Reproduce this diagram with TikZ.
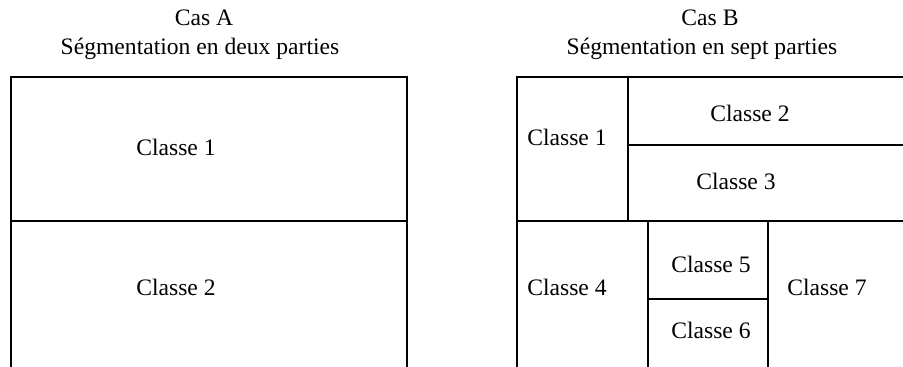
\documentclass[tikz,border=0pt]{standalone}
\usepackage{fontspec}
\setmainfont{Liberation Serif}

\tikzset{
    cell/.style={draw=black, line width=0.7pt},
    titre/.style={font=\fontsize{11.8}{14}\selectfont, anchor=base, inner sep=0pt},
    classe/.style={font=\fontsize{11.8}{14}\selectfont, anchor=base, inner sep=0pt},
}

\begin{document}
\begin{tikzpicture}[x=0.5pt, y=-0.5pt]

    \useasboundingbox (0,0) rectangle (903,366);
    \clip (0,0) rectangle (903,366);

    % Cas A: two classes stacked
    \begin{scope}
        \node[titre] (casA) at (204,25) {Cas A};
        \node[titre] (segA) at (200,54) {Ségmentation en deux parties};
        \draw[cell] (11,370) -- (11,77) -- (407,77) -- (407,370);
        \draw[cell] (11,221) -- (407,221);
        \node[classe] (a1) at (176,155) {Classe 1};
        \node[classe] (a2) at (176,295) {Classe 2};
    \end{scope}

    % Cas B: seven classes
    \begin{scope}
        \node[titre] (casB) at (710,25) {Cas B};
        \node[titre] (segB) at (702,54) {Ségmentation en sept parties};
        \draw[cell] (517,370) -- (517,77) -- (910,77);
        \draw[cell] (517,221) -- (910,221);
        \draw[cell] (628,77) -- (628,221);
        \draw[cell] (628,145) -- (910,145);
        \draw[cell] (648,221) -- (648,370);
        \draw[cell] (768,221) -- (768,370);
        \draw[cell] (648,299) -- (768,299);
        \foreach \n/\x/\y in {1/567/145, 2/750/121, 3/736/189, 4/567/295,
                              5/711/272, 6/711/338, 7/827/295} {
            \node[classe] (b\n) at (\x,\y) {Classe \n};
        }
    \end{scope}

\end{tikzpicture}
\end{document}
